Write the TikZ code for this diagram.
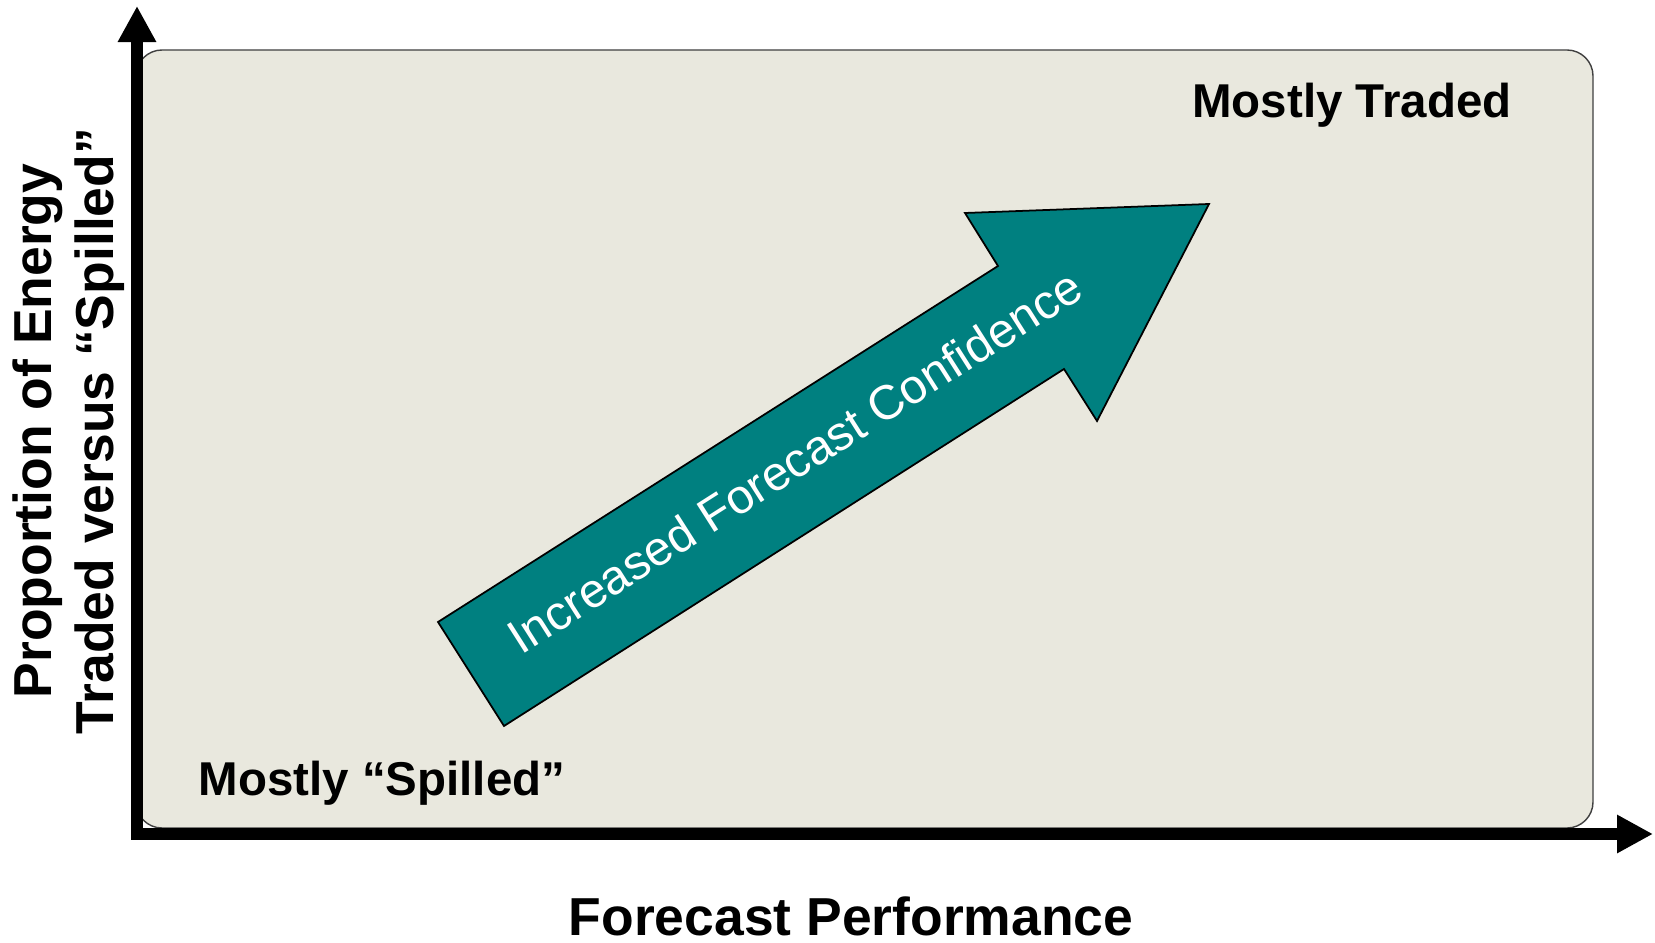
\documentclass[tikz,border=0pt]{standalone}
\usepackage{fontspec}
\setmainfont{Liberation Sans}
\usetikzlibrary{arrows.meta}
\definecolor{arrowteal}{RGB}{0,128,128}
\definecolor{panelgrey}{RGB}{233,232,222}

\begin{document}
\begin{tikzpicture}[x=0.01cm, y=-0.01cm,
    axis/.style={line width=0.12cm, {Triangle[length=0.36cm,width=0.36cm]}-{Triangle[length=0.36cm,width=0.36cm]}},
    corner/.style={font=\fontsize{13.5}{16}\selectfont\bfseries},
    axislabel/.style={font=\fontsize{15.2}{17.7}\selectfont\bfseries, align=center}]

    \useasboundingbox (0,0) rectangle (1655,943);

    % Draw the shaded chart area
    \draw[fill=panelgrey, draw=black!75, line width=0.4pt, rounded corners=0.26cm] (136,50) rectangle (1593,828);

    % Draw the big arrow
    \draw[fill=arrowteal, line width=0.5pt] (438,622) -- (998,266) -- (965,213) -- (1209,204)
        -- (1097,421) -- (1064,369) -- (504,726) -- cycle;
    \node[rotate=32.5, anchor=base west, inner sep=0pt, text=white, font=\fontsize{13.7}{16}\selectfont] (confidence)
        at (521,656) {Increased Forecast Confidence};

    % Draw the axes
    \coordinate (top) at (137,6);
    \coordinate (origin) at (137,834);
    \coordinate (right) at (1653,834);
    \draw[axis] (top) -- (origin) -- (right);

    % Label the corners
    \node[corner, anchor=base] (traded) at (1352,118) {Mostly Traded};
    \node[corner, anchor=base] (spilled) at (382,795) {Mostly “Spilled”};

    % Label the axes
    \node[axislabel, anchor=base, inner sep=1pt] (xlabel) at (851,935) {Forecast Performance};
    \node[axislabel, rotate=90] (ylabel) at (69,431) {Proportion of Energy\\Traded versus “Spilled”};

\end{tikzpicture}
\end{document}
